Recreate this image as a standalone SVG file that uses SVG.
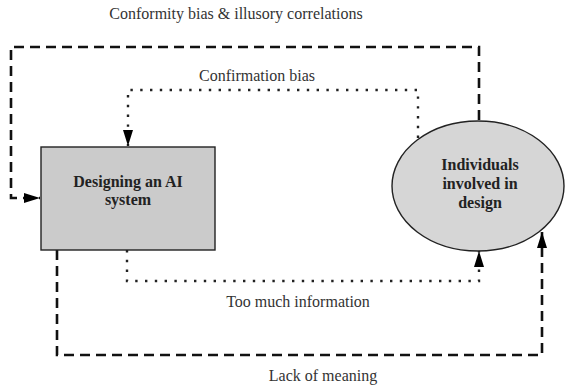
<svg xmlns="http://www.w3.org/2000/svg" width="565" height="385" viewBox="0 0 565 385">
<style>
.lbl{font-family:"Liberation Serif","Times New Roman",serif;font-size:16px;fill:#333;text-anchor:middle}
.nt{font-family:"Liberation Serif","Times New Roman",serif;font-size:16px;font-weight:bold;fill:#222;text-anchor:middle}
.dash{fill:none;stroke:#111;stroke-width:2.6;stroke-dasharray:10 6}
.dot{fill:none;stroke:#222;stroke-width:2.4;stroke-dasharray:2.4 7.4}
.node{stroke:#222;stroke-width:1.4}
</style>
<defs>
<marker id="ah" markerWidth="16" markerHeight="10" refX="16" refY="5" orient="auto" markerUnits="userSpaceOnUse">
<path d="M0,0 L16,5 L0,10 Z" fill="#000"/>
</marker>
</defs>
<rect width="565" height="385" fill="#fff"/>
<g id="connectors">
<path class="dash" d="M479,120 V47 H11 V198 H40" marker-end="url(#ah)"/>
<path class="dot" d="M418,138 V90 H128 V146" marker-end="url(#ah)"/>
<path class="dot" d="M127,250 V281 H479 V251" marker-end="url(#ah)"/>
<path class="dash" d="M57,250 V355 H542 V232" marker-end="url(#ah)"/>
</g>
<g id="labels">
<text class="lbl" x="236" y="19">Conformity bias &amp; illusory correlations</text>
<text class="lbl" x="257" y="81">Confirmation bias</text>
<text class="lbl" x="298" y="307">Too much information</text>
<text class="lbl" x="323" y="381">Lack of meaning</text>
</g>
<g id="node-design">
<rect class="node" x="41" y="147" width="174" height="103" fill="#cbcbcb"/>
<text class="nt" x="128" y="187">Designing an AI</text>
<text class="nt" x="128" y="205">system</text>
</g>
<g id="node-individuals">
<ellipse class="node" cx="478" cy="186" rx="86" ry="65" fill="#d6d6d6"/>
<text class="nt" x="480" y="170">Individuals</text>
<text class="nt" x="480" y="189">involved in</text>
<text class="nt" x="480" y="208">design</text>
</g>
</svg>
